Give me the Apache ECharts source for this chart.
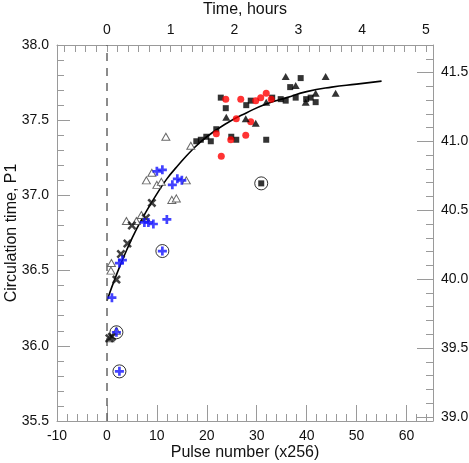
<!DOCTYPE html>
<html>
<head>
<meta charset="utf-8">
<script src="https://cdn.jsdelivr.net/npm/echarts@6/dist/echarts.min.js"></script>
<style>
html, body { margin: 0; padding: 0; background: #fff; }
#chart { width: 469px; height: 463px; }
</style>
</head>
<body>
<div id="chart"></div>
<script>
// [pulse number (x256), circulation time P1]
var openTriangles = [[0.6, 36.05], [0.8, 36.50], [0.9, 36.55], [1.9, 36.10], [3.9, 36.83], [5.9, 36.83],
    [6.9, 36.87], [7.9, 37.10], [9.0, 37.15], [10.0, 37.07], [10.9, 37.09], [11.8, 37.39],
    [13.0, 36.97], [13.9, 36.98], [15.9, 37.10], [16.8, 37.33]];
var crosses = [[0.5, 36.05], [1.0, 36.06], [1.9, 36.44], [2.8, 36.61], [4.1, 36.68], [5.0, 36.80],
    [7.8, 36.85], [9.0, 36.95]];
var bluePlus = [[1.0, 36.32], [1.9, 36.09], [2.5, 35.83], [2.5, 36.55], [3.1, 36.57], [7.5, 36.82],
    [8.3, 36.82], [9.3, 36.81], [10.0, 37.16], [11.1, 37.17], [11.1, 36.63], [12.0, 36.84],
    [13.1, 37.07], [14.1, 37.11], [15.0, 37.10]];
var squares = [[17.9, 37.36], [18.8, 37.37], [19.9, 37.39], [20.8, 37.36], [21.9, 37.44], [22.8, 37.65],
    [23.8, 37.58], [24.9, 37.39], [25.9, 37.37], [27.9, 37.60], [28.8, 37.63], [30.9, 37.08],
    [31.9, 37.37], [33.1, 37.65], [34.8, 37.64], [35.8, 37.63], [36.7, 37.72], [37.8, 37.65],
    [38.8, 37.78], [39.9, 37.64], [40.8, 37.65], [41.8, 37.62]];
var redCircles = [[21.9, 37.41], [22.9, 37.26], [23.8, 37.64], [24.8, 37.37], [25.9, 37.51], [26.8, 37.64],
    [27.8, 37.40], [28.8, 37.49], [29.8, 37.63], [30.8, 37.65], [31.9, 37.68], [32.9, 37.64]];
var filledTriangles = [[23.9, 37.52], [27.8, 37.51], [29.8, 37.48], [31.9, 37.62], [35.8, 37.79],
    [37.8, 37.73], [39.8, 37.62], [41.8, 37.68], [43.8, 37.79], [45.8, 37.68]];
var circled = [[1.9, 36.09], [2.5, 35.83], [11.1, 36.63], [30.9, 37.08]];

// fitted curve
var curveX = [0, 2, 4, 6, 8, 10, 12, 14, 17, 20, 24, 28, 32, 36, 40, 45, 50, 55];
var curveY = [36.30, 36.48, 36.64, 36.78, 36.90, 37.01, 37.11, 37.19, 37.30, 37.39, 37.48, 37.55,
    37.61, 37.65, 37.69, 37.72, 37.74, 37.76];

// axes
var pulseTicks = [-10, 0, 10, 20, 30, 40, 50, 60];
var hourTicks = [0, 1, 2, 3, 4, 5];
var p1Ticks = [35.5, 36.0, 36.5, 37.0, 37.5, 38.0];
var rightTicks = [39.0, 39.5, 40.0, 40.5, 41.0, 41.5];
var pulseRange = [-10, 65.3];
var hourRange = [-0.78, 5.11];
var p1Range = [35.5, 38.0];
var rightRange = [38.97, 41.70];

function steps(from, to, step) {
    var out = [];
    for (var v = from; v <= to + 1e-9; v += step) out.push(Math.round(v * 1000) / 1000);
    return out;
}

var axisGray = '#9a9a9a';
var font = 'Liberation Sans, Arial, sans-serif';

function majorAxis(pos, range, ticks, tickLen, fmt, name, gap) {
    return {
        type: 'value', position: pos, gridIndex: 0,
        min: range[0], max: range[1],
        name: name, nameLocation: 'middle', nameGap: gap, nameMoveOverlap: false,
        nameTextStyle: {fontSize: 16, color: '#111', fontFamily: font},
        axisLine: {show: true, onZero: false, lineStyle: {color: axisGray, width: 1}},
        axisTick: {show: true, inside: true, length: tickLen, customValues: ticks,
            lineStyle: {color: axisGray, width: 1}},
        axisLabel: {show: true, customValues: ticks, margin: 8, fontSize: 14, color: '#111',
            fontFamily: font, formatter: fmt},
        splitLine: {show: false}
    };
}

function minorAxis(pos, range, ticks) {
    return {
        type: 'value', position: pos, gridIndex: 1,
        min: range[0], max: range[1],
        axisLine: {show: false, onZero: false},
        axisTick: {show: true, inside: true, length: 7, customValues: ticks,
            lineStyle: {color: axisGray, width: 1}},
        axisLabel: {show: false},
        splitLine: {show: false}
    };
}

var fmt1 = function (v) { return v.toFixed(1); };
var fmt0 = function (v) { return String(v); };

var chart = echarts.init(document.getElementById('chart'), null, {renderer: 'canvas'});

var option = {
    animation: false,
    backgroundColor: '#fff',
    grid: [
        {left: 57, right: 36, top: 45, bottom: 42, outerBoundsMode: 'none'},
        {left: 57, right: 36, top: 45, bottom: 42, outerBoundsMode: 'none'}
    ],
    xAxis: [
        majorAxis('bottom', pulseRange, pulseTicks, 16, fmt0, 'Pulse number (x256)', 24),
        majorAxis('top', hourRange, hourTicks, 7, fmt0, 'Time, hours', 27),
        minorAxis('bottom', pulseRange, steps(-10, 64, 2)),
        minorAxis('top', hourRange, steps(-4 / 6, 5, 1 / 6))
    ],
    yAxis: [
        majorAxis('left', p1Range, p1Ticks, 13, fmt1, 'Circulation time, P1', 37),
        majorAxis('right', rightRange, rightTicks, 16, fmt1, '', 0),
        minorAxis('left', p1Range, steps(35.5, 38.0, 0.1)),
        minorAxis('right', rightRange, steps(39.0, 41.7, 0.1))
    ],
    series: [
        {
            type: 'line', xAxisIndex: 0, yAxisIndex: 0,
            data: curveX.map(function (x, i) { return [x, curveY[i]]; }),
            smooth: true, showSymbol: false, symbol: 'none',
            lineStyle: {color: '#000', width: 1.6},
            z: 3,
            markLine: {
                silent: true, symbol: 'none', label: {show: false},
                lineStyle: {color: '#666', width: 1.5, type: [8, 7]},
                data: [{xAxis: 0}]
            }
        },
        {
            type: 'scatter', data: openTriangles, symbol: 'triangle', symbolSize: [8, 7],
            itemStyle: {color: '#fff', borderColor: '#444', borderWidth: 1}, z: 4
        },
        {
            type: 'scatter', data: crosses, symbolSize: 9,
            symbol: 'path://M0,2 L2,0 L5,3 L8,0 L10,2 L7,5 L10,8 L8,10 L5,7 L2,10 L0,8 L3,5 Z',
            itemStyle: {color: '#111'}, z: 5
        },
        {
            type: 'scatter', data: bluePlus, symbolSize: 9,
            symbol: 'path://M3.5,0 H6.5 V3.5 H10 V6.5 H6.5 V10 H3.5 V6.5 H0 V3.5 H3.5 Z',
            itemStyle: {color: '#1414ff'}, z: 5
        },
        {
            type: 'scatter', data: squares, symbol: 'rect', symbolSize: 6,
            itemStyle: {color: '#000'}, z: 5
        },
        {
            type: 'scatter', data: redCircles, symbol: 'circle', symbolSize: 7,
            itemStyle: {color: '#ff0000'}, z: 6
        },
        {
            type: 'scatter', data: filledTriangles, symbol: 'triangle', symbolSize: [8, 7],
            itemStyle: {color: '#000'}, z: 6
        },
        {
            type: 'scatter', data: circled, symbol: 'circle', symbolSize: 13,
            itemStyle: {color: 'rgba(0,0,0,0)', borderColor: '#000', borderWidth: 1}, z: 7
        }
    ]
};

chart.setOption(option);
</script>
</body>
</html>
